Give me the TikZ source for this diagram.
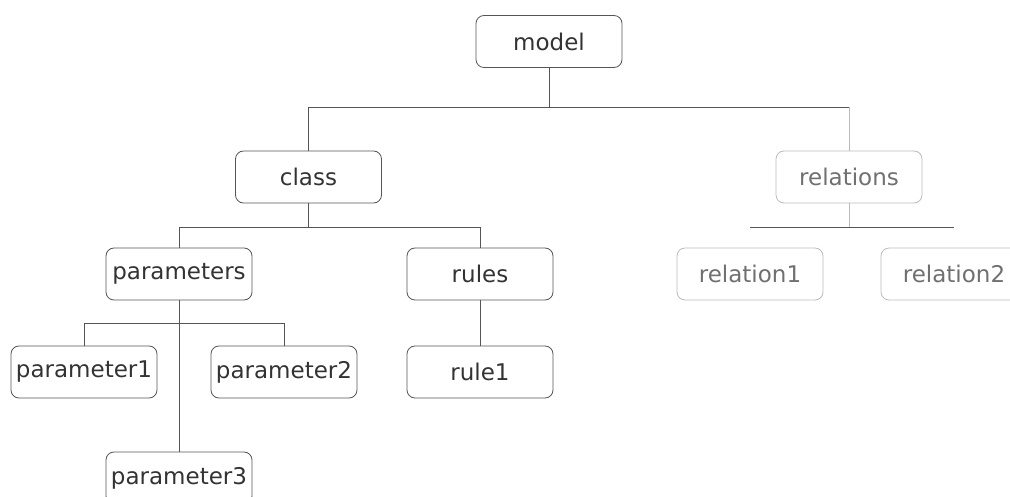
\documentclass[tikz,border=0pt]{standalone}
\usepackage{fontspec}
\setmainfont{DejaVu Sans}
\definecolor{boxline}{HTML}{555555}
\definecolor{lightline}{HTML}{BBBBBB}
\definecolor{txt}{HTML}{333333}
\tikzset{
  box/.style={draw=boxline, line width=0.8pt, rounded corners=8pt, minimum width=146pt, minimum height=52pt, inner sep=0pt, font=\fontsize{23}{26}\selectfont, text=txt},
  lightbox/.style={box, draw=lightline, text=txt!70},
  conn/.style={draw=boxline, line width=0.8pt},
  lightconn/.style={draw=lightline, line width=0.6pt}
}
\begin{document}
\begin{tikzpicture}[x=1pt,y=1pt]
\useasboundingbox (0,0) rectangle (1010,-497);
\begin{scope}
\clip (0,0) rectangle (1010,-497);
\node[box] (model) at (549,-41.5) {model};
\node[box] (class) at (308.5,-177) {class};
\node[lightbox] (relations) at (849,-177) {relations};
\node[box] (parameters) at (179,-274) {parameters};
\node[box] (rules) at (480,-274) {rules};
\node[lightbox] (relation1) at (750,-274) {relation1};
\node[lightbox] (relation2) at (954,-274) {relation2};
\node[box] (parameter1) at (84,-372) {parameter1};
\node[box] (parameter2) at (284,-372) {parameter2};
\node[box] (rule1) at (480,-372) {rule1};
\node[box] (parameter3) at (179,-478) {parameter3};

\coordinate (j1) at (549,-107);
\coordinate (j2) at (308.5,-227);
\coordinate (j3) at (849,-227);
\coordinate (j4) at (179,-323);

\draw[conn] (model.south) -- (j1);
\draw[conn] (j1) -| (class.north);
\draw[conn] (j1) -- (relations.north |- j1);
\draw[lightconn] (relations.north |- j1) -- (relations.north);

\draw[conn] (class.south) -- (j2);
\draw[conn] (j2) -| (parameters.north);
\draw[conn] (j2) -| (rules.north);

\draw[lightconn] (relations.south) -- (j3);
\coordinate (r1) at (relation1.north |- j3);
\coordinate (r2) at (relation2.north |- j3);
\draw[conn] (r1) -- (r2);

\draw[conn] (parameters.south) -- (parameter3.north);
\draw[conn] (j4) -| (parameter1.north);
\draw[conn] (j4) -| (parameter2.north);

\draw[conn] (rules.south) -- (rule1.north);
\end{scope}
\end{tikzpicture}
\end{document}
